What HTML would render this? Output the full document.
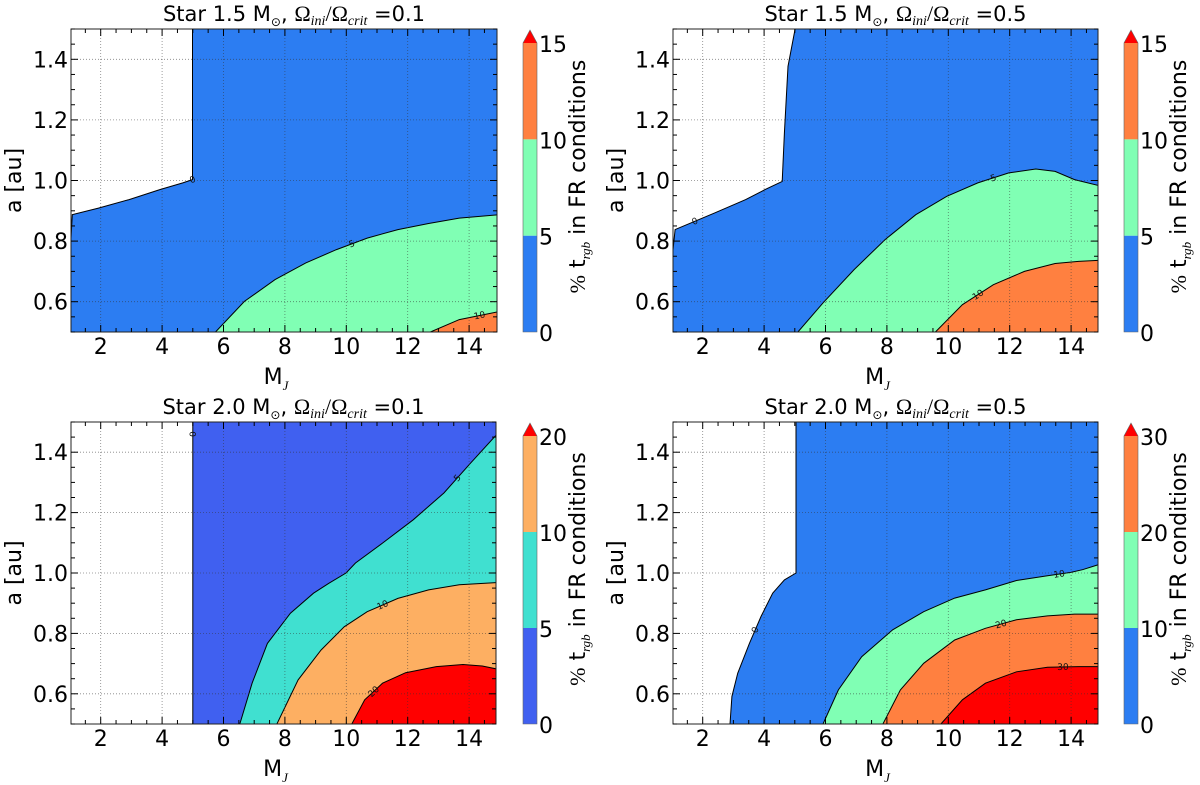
<!DOCTYPE html>
<html><head><meta charset="utf-8"><style>
html,body{margin:0;padding:0;background:#fff;}
svg{display:block;font-family:"DejaVu Sans","Liberation Sans",sans-serif;}
</style></head><body>
<svg id="fig" width="1200" height="785" viewBox="0 0 1200 785" xmlns="http://www.w3.org/2000/svg"></svg>
<script>
// ---- data: contour boundaries as [M_J, a] pairs ----
const xTicks = [2,4,6,8,10,12,14];
const yTicks = [0.6,0.8,1.0,1.2,1.4];
const yTickLabels = ["0.6","0.8","1.0","1.2","1.4"];

const p1Zero = [[1,0.75],[1.075,0.887],[1.925,0.909],[2.925,0.937],[3.925,0.970],[4.675,0.992],[4.99,1.003],[4.99,1.5]];
const p1L5 = [[5.74,0.5],[6.68,0.601],[7.68,0.673],[8.68,0.728],[9.68,0.772],[10.68,0.810],[11.68,0.838],[12.68,0.858],[13.68,0.876],[15,0.887]];
const p1L10 = [[12.74,0.5],[13.68,0.541],[15,0.568]];

const p2Zero = [[1,0.739],[1.1,0.838],[2.39,0.893],[3.40,0.937],[4.03,0.970],[4.59,0.997],[4.66,1.157],[4.78,1.377],[5.01,1.5]];
const p2L5 = [[5.10,0.5],[5.92,0.596],[6.93,0.706],[7.94,0.805],[8.94,0.887],[9.95,0.948],[10.96,0.992],[11.97,1.025],[12.85,1.038],[13.48,1.030],[14.11,1.003],[15,0.981]];
const p2L10 = [[9.58,0.5],[10.46,0.590],[11.47,0.656],[12.48,0.700],[13.48,0.726],[14.24,0.733],[15,0.737]];

const p3Zero = [[5,0.5],[5,1.5]];
const p3L5 = [[6.53,0.5],[6.93,0.635],[7.43,0.767],[8.18,0.867],[8.93,0.933],[9.43,0.966],[9.99,1.0],[10.3,1.033],[11.18,1.099],[12.18,1.176],[13.18,1.265],[14.05,1.364],[15,1.47]];
const p3L10 = [[7.74,0.5],[8.43,0.646],[9.18,0.745],[9.93,0.822],[10.68,0.872],[11.68,0.916],[12.68,0.944],[13.68,0.961],[15,0.969]];
const p3L20 = [[10.18,0.5],[10.6,0.58],[11.18,0.635],[11.93,0.67],[12.93,0.690],[13.8,0.697],[14.43,0.692],[15,0.68]];

const p4Zero = [[2.89,0.5],[2.95,0.591],[3.14,0.668],[3.52,0.767],[3.90,0.856],[4.28,0.933],[4.66,0.977],[5.04,1.0],[5.04,1.5]];
const p4L10 = [[5.92,0.5],[6.42,0.613],[7.18,0.723],[8.19,0.812],[9.20,0.872],[10.21,0.917],[11.21,0.944],[12.22,0.975],[13.23,0.991],[13.99,1.002],[14.37,1.011],[15,1.031]];
const p4L20 = [[7.87,0.5],[8.44,0.613],[9.20,0.701],[10.21,0.778],[11.21,0.817],[12.22,0.845],[13.23,0.858],[14.11,0.864],[15,0.864]];
const p4L30 = [[9.76,0.5],[10.46,0.580],[11.21,0.635],[12.22,0.673],[13.23,0.688],[14.24,0.690],[15,0.690]];

const cb1Ticks = ["0","5","10","15"];
const cb3Ticks = ["0","5","10","20"];
const cb4Ticks = ["0","10","20","30"];

const BLUE="#2c7df2", GREEN="#80ffb4", ORANGE="#ff8040", RED="#ff0000";
const RBLUE="#4060f0", TURQ="#40e0d0", LORANGE="#fdaf62";

const panels = [
 {id:"p1", left:71, right:497, top:29, bottom:332, x0:70, title:["1.5","0.1"],
  contours:[{pts:p1Zero,color:BLUE,label:"0",li:5,lt:1},{pts:p1L5,color:GREEN,label:"5",li:4},{pts:p1L10,color:ORANGE,label:"10",li:1}],
  cbx:523, cbTicks:cb1Ticks, cbColors:[BLUE,GREEN,ORANGE]},
 {id:"p2", left:673, right:1098, top:29, bottom:332, x0:672, title:["1.5","0.5"],
  contours:[{pts:p2Zero,color:BLUE,label:"0",li:1},{pts:p2L5,color:GREEN,label:"5",li:6},{pts:p2L10,color:ORANGE,label:"10",li:1}],
  cbx:1124, cbTicks:cb1Ticks, cbColors:[BLUE,GREEN,ORANGE]},
 {id:"p3", left:71, right:496, top:422, bottom:724, x0:70, title:["2.0","0.1"],
  contours:[{pts:p3Zero,color:RBLUE,label:"0",li:0,lt:0.96},{pts:p3L5,color:TURQ,label:"5",li:10},{pts:p3L10,color:LORANGE,label:"10",li:4},{pts:p3L20,color:RED,label:"20",li:1}],
  cbx:523, cbTicks:cb3Ticks, cbColors:[RBLUE,TURQ,LORANGE]},
 {id:"p4", left:673, right:1098, top:422, bottom:724, x0:672, title:["2.0","0.5"],
  contours:[{pts:p4Zero,color:BLUE,label:"0",li:3},{pts:p4L10,color:GREEN,label:"10",li:8},{pts:p4L20,color:ORANGE,label:"20",li:4},{pts:p4L30,color:RED,label:"30",li:4}],
  cbx:1124, cbTicks:cb4Ticks, cbColors:[BLUE,GREEN,ORANGE]}
];

const NS="http://www.w3.org/2000/svg";
const svg=document.getElementById('fig');
function mk(tag,attrs,parent){const e=document.createElementNS(NS,tag);for(const k in attrs)e.setAttribute(k,attrs[k]);(parent||svg).appendChild(e);return e;}

panels.forEach((P,pi)=>{
  const unit=30.7;
  const sx=x=>P.x0+(x-1)*unit;
  const sy=a=>P.bottom-(a-0.5)/1.0*(P.bottom-P.top);
  const g=mk('g',{});
  
  
  const cp=mk('clipPath',{id:'clip'+P.id},g);
  mk('rect',{x:P.left,y:P.top,width:P.right-P.left,height:P.bottom-P.top},cp);
  const fills=mk('g',{'clip-path':'url(#clip'+P.id+')'},g);
  P.contours.forEach((c,ci)=>{
    let pts=c.pts.slice();
    if(pts[0][1]>0.5) pts.unshift([pts[0][0],0.5]);
    const last=pts[pts.length-1];
    if(last[1]>=1.5){pts.push([16,1.5]);}
    else pts.push([16,last[1]]);
    pts.push([16,0.4]);pts.push([pts[0][0],0.4]);
    const d='M'+pts.map(p=>sx(p[0]).toFixed(1)+','+sy(p[1]).toFixed(1)).join('L')+'Z';
    const poly=mk('path',{d:d,fill:c.color},fills);
    
    
  });
  P.contours.forEach(c=>{
    const d='M'+c.pts.map(p=>sx(p[0]).toFixed(1)+','+sy(p[1]).toFixed(1)).join('L');
    const ln=mk('path',{d:d,fill:'none',stroke:'#000','stroke-width':1},fills);
    
    
    const i=c.li, a=c.pts[i], b=c.pts[Math.min(i+1,c.pts.length-1)];
    const t=c.lt!==undefined?c.lt:0.5;
    const mx=sx(a[0]+(b[0]-a[0])*t), my=sy(a[1]+(b[1]-a[1])*t);
    let ang=Math.atan2(sy(b[1])-sy(a[1]),sx(b[0])-sx(a[0]))*180/Math.PI;
    if(ang>90)ang-=180; if(ang<-90)ang+=180;
    const lb=mk('text',{x:mx,y:my+3,'font-size':9,'text-anchor':'middle',fill:'#111',transform:`rotate(${ang.toFixed(1)} ${mx} ${my})`},fills);
    lb.textContent=c.label;
    
    
  });
  xTicks.forEach(x=>{mk('line',{x1:sx(x),x2:sx(x),y1:P.top,y2:P.bottom,stroke:'#333','stroke-width':0.8,'stroke-dasharray':'1,2',opacity:0.6},g);});
  yTicks.forEach(y=>{mk('line',{x1:P.left,x2:P.right,y1:sy(y),y2:sy(y),stroke:'#333','stroke-width':0.8,'stroke-dasharray':'1,2',opacity:0.6},g);});
  mk('rect',{x:P.left,y:P.top,width:P.right-P.left,height:P.bottom-P.top,fill:'none',stroke:'#222','stroke-width':1},g);
  for(let x=1;x<=15;x+=0.5){const X=sx(x);if(X<P.left||X>P.right)continue;const L=(x%2===0)?7:4;
    mk('line',{x1:X,x2:X,y1:P.bottom,y2:P.bottom-L,stroke:'#000','stroke-width':1},g);
    mk('line',{x1:X,x2:X,y1:P.top,y2:P.top+L,stroke:'#000','stroke-width':1},g);}
  for(let k=0;k<=20;k++){const y=0.5+k*0.05;const Y=sy(y);const L=(k%4===2)?7:4;
    mk('line',{x1:P.left,x2:P.left+L,y1:Y,y2:Y,stroke:'#000','stroke-width':1},g);
    mk('line',{x1:P.right,x2:P.right-L,y1:Y,y2:Y,stroke:'#000','stroke-width':1},g);}
  xTicks.forEach(x=>{const t=mk('text',{x:sx(x),y:P.bottom+22,'font-size':22,'text-anchor':'middle',fill:'#000'},g);t.textContent=String(x);
    });
  yTicks.forEach((y,i)=>{const t=mk('text',{x:P.left-3,y:sy(y)+8,'font-size':22,'text-anchor':'end',fill:'#000'},g);t.textContent=yTickLabels[i];
    });
  const cx=(P.left+P.right)/2;
  const xt=mk('text',{x:cx-8,y:P.bottom+52,'font-size':22,'text-anchor':'middle'},g);
  xt.innerHTML='M<tspan font-size="13" font-style="italic" font-family="Liberation Serif,serif" dy="6">J</tspan>';
  
  const yc=(P.top+P.bottom)/2;
  const yt=mk('text',{x:0,y:0,'font-size':22,'text-anchor':'middle',transform:`translate(${P.left-50},${yc}) rotate(-90)`},g);
  yt.textContent='a [au]';
  
  const tt=mk('text',{x:cx+10,y:P.top-8,'font-size':21,'text-anchor':'middle'},g);
  tt.innerHTML=`Star ${P.title[0]} M<tspan font-size="12" dy="5">⊙</tspan><tspan dy="-5">, </tspan><tspan font-family="Liberation Serif,serif" font-size="22">Ω<tspan font-size="14" font-style="italic" dy="4">ini</tspan><tspan dy="-4">/Ω</tspan><tspan font-size="14" font-style="italic" dy="4">crit</tspan></tspan><tspan dy="-4"> =${P.title[1]}</tspan>`;
  
  const cb=mk('g',{},g);
  
  const cbTop=P.top+14, cbBot=P.bottom, seg=(cbBot-cbTop)/3;
  P.cbColors.forEach((col,i)=>{mk('rect',{x:P.cbx,y:cbBot-(i+1)*seg,width:14,height:seg,fill:col},cb);});
  const tri=mk('polygon',{points:`${P.cbx},${cbTop} ${P.cbx+14},${cbTop} ${P.cbx+7},${P.top+1}`,fill:RED},cb);
  
  mk('path',{d:`M${P.cbx},${cbBot}V${cbTop}L${P.cbx+7},${P.top+1}L${P.cbx+14},${cbTop}V${cbBot}Z`,fill:'none',stroke:'#666','stroke-width':0.6},cb);
  P.cbTicks.forEach((lab,i)=>{const t=mk('text',{x:P.cbx+16,y:cbBot-i*seg+9,'font-size':22},cb);t.textContent=lab;
    });
  const cl=mk('text',{x:0,y:0,'font-size':22,'text-anchor':'middle',transform:`translate(${P.cbx+62},${yc-4}) rotate(-90)`},cb);
  cl.innerHTML='<tspan font-family="Liberation Serif,serif">%</tspan> t<tspan font-size="13" font-style="italic" font-family="Liberation Serif,serif" dy="5">rgb</tspan><tspan dy="-5"> in FR conditions</tspan>';
  
});
</script>
</body></html>
